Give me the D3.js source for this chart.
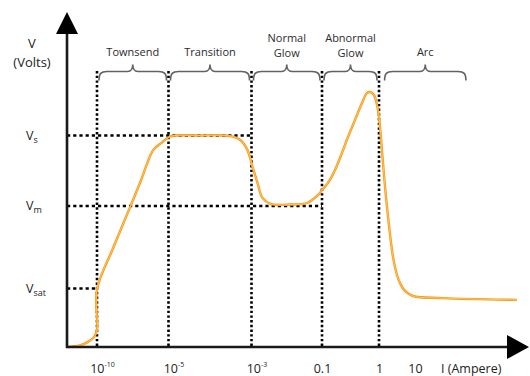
<!DOCTYPE html>
<html>
<head>
<meta charset="utf-8">
<script src="https://cdn.jsdelivr.net/npm/d3@7/dist/d3.min.js"></script>
<style>
  html, body { margin: 0; padding: 0; background: #fff; }
  svg { display: block; }
  text { font-family: "Open Sans", "Noto Sans", sans-serif; }
</style>
</head>
<body>
<svg id="chart" width="530" height="376"></svg>
<script>
// ---- data ----
// current expressed as log10(I / A); voltage in arbitrary units (0-100)
const currentLog = [-11, -10.57, -10.3, -10.1, -10, -10, -8.87, -7.68, -6.97, -6.48, -6.06, -5.42, -4.95,
  -4.23, -3.51, -3.27, -3.10, -2.97, -2.83, -2.69, -2.46, -1.90, -1.42, -1.11, -1.0, -0.895, -0.772,
  -0.649, -0.544, -0.421, -0.298, -0.211, -0.158, -0.088, -0.018, 0.028, 0.111, 0.222, 0.389, 0.5,
  0.583, 0.722, 0.944, 1.78, 3.83];
const voltage = [0, 0.5, 1.7, 3.3, 5.7, 19.3, 33, 46.7, 55, 61.3, 65.7, 68.3, 70.2,
  70.5, 70.3, 69, 65.7, 60, 54.7, 49.7, 47.7, 47.5, 48, 50.7, 52.3, 54.7, 59,
  64.7, 70, 75.7, 81.3, 84.7, 85, 84, 79, 73.3, 61.3, 46.7, 30, 24,
  21.3, 18.7, 17, 16.3, 15.7];

const xTickValues = [-10, -5, -3, -1, 0, 1];
const xTickLabels = [["10", "-10"], ["10", "-5"], ["10", "-3"], ["0.1", ""], ["1", ""], ["10", ""]];
const xAxisTitle = "I (Ampere)";

const levelNames = ["V", "V", "V"];
const levelSubs = ["s", "m", "sat"];
const levelValues = [70.5, 47, 19.5];
const levelEnds = [-3, -1, -10];    // log current where each dotted level line stops
const yAxisTitle = ["V", "(Volts)"];

const regionNames = [["Townsend"], ["Transition"], ["Normal", "Glow"], ["Abnormal", "Glow"], ["Arc"]];
const regionFrom = [-10, -5, -3, -1, 0.1];
const regionTo = [-5, -3, -1, 0, 2.47];
const boundaries = [-10, -5, -3, -1, 0];

// ---- scales ----
const svg = d3.select("#chart");
const x = d3.scaleLinear()
  .domain([-11, -10, -5, -3, -1, 0, 1, 4])
  .range([67, 97, 168.5, 251.5, 322, 379, 415, 523]);
const y = d3.scaleLinear().domain([0, 100]).range([347, 47]);

const x0 = x(-11), yBase = y(0);
const dotTop = 71;

// ---- dotted guides ----
const guides = svg.append("g").attr("stroke", "#000").attr("stroke-width", 2.6).attr("fill", "none");
guides.selectAll("line.v").data(boundaries).join("line")
  .attr("class", "v")
  .attr("x1", d => x(d)).attr("x2", d => x(d))
  .attr("y1", dotTop).attr("y2", yBase)
  .attr("stroke-dasharray", "2.4,2.3");
guides.selectAll("line.h").data(levelValues).join("line")
  .attr("class", "h")
  .attr("x1", x0).attr("x2", (d, i) => x(levelEnds[i]))
  .attr("y1", d => y(d)).attr("y2", d => y(d))
  .attr("stroke-dasharray", "3.2,3");

// ---- braces ----
function brace(x1, x2, yy) {
  const m = (x1 + x2) / 2;
  return `M${x1},${yy + 9} C${x1},${yy + 2} ${x1 + 2},${yy} ${x1 + 8},${yy} L${m - 5},${yy} ` +
    `C${m - 2},${yy} ${m},${yy - 3} ${m},${yy - 7} C${m},${yy - 3} ${m + 2},${yy} ${m + 5},${yy} ` +
    `L${x2 - 8},${yy} C${x2 - 2},${yy} ${x2},${yy + 2} ${x2},${yy + 9}`;
}
svg.append("g").selectAll("path").data(regionNames).join("path")
  .attr("d", (d, i) => brace(x(regionFrom[i]) + 2, x(regionTo[i]) - 2, 71.5))
  .attr("fill", "none").attr("stroke", "#626262").attr("stroke-width", 1.6);

const regionLabels = svg.append("g").attr("fill", "#2b2b2b").attr("font-size", 11).attr("text-anchor", "middle");
regionNames.forEach((lines, i) => {
  const cx = (x(regionFrom[i]) + x(regionTo[i])) / 2;
  const t = regionLabels.append("text").attr("x", cx);
  if (lines.length === 1) {
    t.attr("y", 56).text(lines[0]);
  } else {
    t.attr("y", 42).text(lines[0]);
    regionLabels.append("text").attr("x", cx).attr("y", 57).text(lines[1]);
  }
});

// ---- curve ----
const pts = currentLog.map((c, i) => [x(c), y(voltage[i])]);
const line = d3.line().curve(d3.curveCatmullRom.alpha(0.5));
svg.append("path").attr("d", line(pts)).attr("fill", "none")
  .attr("stroke", "#f7951e").attr("stroke-width", 2.4).attr("stroke-linejoin", "round");
svg.append("path").attr("d", line(pts)).attr("fill", "none")
  .attr("stroke", "#ffd35a").attr("stroke-width", 0.8).attr("stroke-linejoin", "round");

// ---- axes lines and arrows ----
const axisCol = "#1a1a1a";
svg.append("line").attr("x1", x0).attr("x2", x0).attr("y1", 30).attr("y2", yBase + 1)
  .attr("stroke", axisCol).attr("stroke-width", 2.6);
svg.append("line").attr("x1", x0 - 1).attr("x2", 512).attr("y1", yBase).attr("y2", yBase)
  .attr("stroke", axisCol).attr("stroke-width", 2.6);
svg.append("path").attr("d", `M${x0},12 L${x0 - 11},34 L${x0 + 11},34 Z`).attr("fill", "#000");
svg.append("path").attr("d", `M529,${yBase} L507,${yBase - 12} L507,${yBase + 12} Z`).attr("fill", "#000");

// ---- x tick labels via d3 axis ----
const xAxis = d3.axisBottom(x).tickValues(xTickValues).tickSize(0).tickFormat(() => "");
const gx = svg.append("g").attr("transform", `translate(0,${yBase})`).call(xAxis);
gx.select(".domain").remove();
gx.selectAll(".tick text").each(function (d) {
  const i = xTickValues.indexOf(d);
  const [base, sup] = xTickLabels[i];
  const t = d3.select(this).attr("y", 26).attr("dy", 0)
    .attr("font-size", 12.5).attr("fill", "#222")
    .attr("font-family", '"Open Sans", "Noto Sans", sans-serif')
    .attr("text-anchor", "middle")
    .attr("dx", sup ? 5 : 0);
  t.append("tspan").text(base);
  if (sup) t.append("tspan").attr("dy", -6).attr("font-size", 7).text(sup);
});
svg.append("text").attr("x", 441).attr("y", yBase + 26).attr("font-size", 12.5).attr("fill", "#222")
  .text(xAxisTitle);

// ---- y labels ----
const yl = svg.append("g").attr("fill", "#222").attr("font-size", 12.5);
levelValues.forEach((v, i) => {
  const t = yl.append("text").attr("x", 26).attr("y", y(v) + 4);
  t.append("tspan").text(levelNames[i]);
  t.append("tspan").attr("dy", 3).attr("font-size", 9).text(levelSubs[i]);
});
yl.append("text").attr("x", 32).attr("y", 48).attr("text-anchor", "middle").attr("font-size", 13).text(yAxisTitle[0]);
yl.append("text").attr("x", 32).attr("y", 67).attr("text-anchor", "middle").attr("font-size", 13).text(yAxisTitle[1]);
</script>
</body>
</html>
